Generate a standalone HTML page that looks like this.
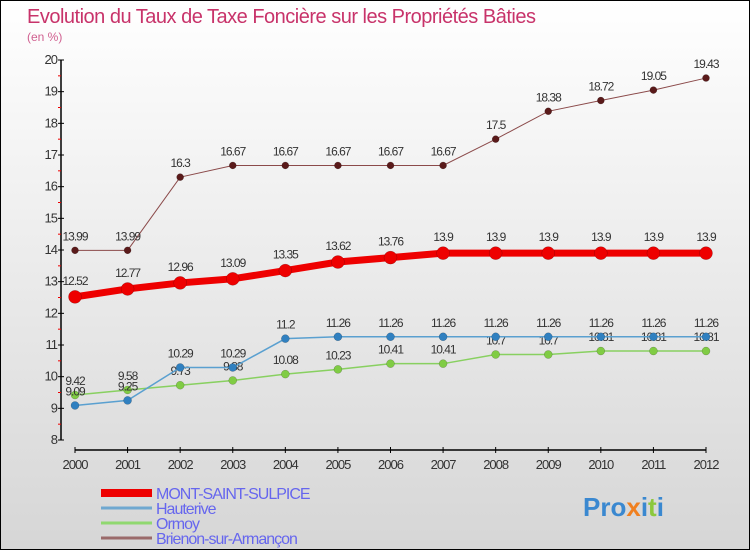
<!DOCTYPE html>
<html><head><meta charset="utf-8"><style>
html,body{margin:0;padding:0}
body{width:750px;height:550px;overflow:hidden;font-family:"Liberation Sans",sans-serif}
#wrap{position:absolute;left:0;top:0;width:748px;height:548px;border:1px solid #000;background:linear-gradient(#ffffff,#d6d6d6)}
</style></head><body>
<div id="wrap">
<svg id="chart" width="748" height="548" style="position:absolute;left:0;top:0"></svg>
</div>
<script>
const years=[2000,2001,2002,2003,2004,2005,2006,2007,2008,2009,2010,2011,2012];
const yTicks=[8,9,10,11,12,13,14,15,16,17,18,19,20];
const mont=[12.52,12.77,12.96,13.09,13.35,13.62,13.76,13.9,13.9,13.9,13.9,13.9,13.9];
const hauterive=[9.09,9.25,10.29,10.29,11.2,11.26,11.26,11.26,11.26,11.26,11.26,11.26,11.26];
const ormoy=[9.42,9.58,9.73,9.88,10.08,10.23,10.41,10.41,10.7,10.7,10.81,10.81,10.81];
const brienon=[13.99,13.99,16.3,16.67,16.67,16.67,16.67,16.67,17.5,18.38,18.72,19.05,19.43];
const seriesNames=["MONT-SAINT-SULPICE","Hauterive","Ormoy","Brienon-sur-Armançon"];

const NS="http://www.w3.org/2000/svg";
const svg=document.getElementById('chart');
function xs(i){return 74+i*(705-74)/(years.length-1);}
function ys(v){return 439-(v-8)*(439-59)/12;}
function mk(t,a,p){const e=document.createElementNS(NS,t);for(const k in a)e.setAttribute(k,a[k]);(p||svg).appendChild(e);return e;}
const F='"Liberation Sans",sans-serif';

let t=mk('text',{x:26,y:22,'font-size':20,fill:'#c8336a','font-family':F,'letter-spacing':'-0.5'});t.textContent='Evolution du Taux de Taxe Foncière sur les Propriétés Bâties';

t=mk('text',{x:26,y:40,'font-size':12,fill:'#d06090','font-family':F});t.textContent='(en %)';


let ax=mk('line',{x1:60,y1:59,x2:60,y2:439,stroke:'#000','stroke-width':1.5});

yTicks.forEach(v=>{
  mk('line',{x1:57,y1:ys(v),x2:63,y2:ys(v),stroke:'#000'});
  if(v<20) mk('line',{x1:57,y1:ys(v+0.5),x2:60,y2:ys(v+0.5),stroke:'#e00'});
  const l=mk('text',{x:56,y:ys(v)+4,'font-size':13,fill:'#333','text-anchor':'end','font-family':F,'letter-spacing':'-1'});l.textContent=v;
  
});
ax=mk('line',{x1:74,y1:449,x2:705,y2:449,stroke:'#000','stroke-width':1.5});

years.forEach((y,i)=>{
  mk('line',{x1:xs(i),y1:446,x2:xs(i),y2:452,stroke:'#000'});
  const l=mk('text',{x:xs(i),y:468,'font-size':13,fill:'#333','text-anchor':'middle','font-family':F,'letter-spacing':'-1'});l.textContent=y;
  
});

function series(vals,color,w,r,dot,name,lblOff){
  const g=mk('g',{});
  
  const pts=vals.map((v,i)=>xs(i)+','+ys(v)).join(' ');
  mk('polyline',{points:pts,fill:'none',stroke:color,'stroke-width':w},g);
  vals.forEach((v,i)=>{
    const c=mk('circle',{cx:xs(i),cy:ys(v),r:r,fill:dot,stroke:'rgba(0,0,0,0.3)','stroke-width':0.5},g);
    
    const l=mk('text',{x:xs(i),y:ys(v)-lblOff,'font-size':12,fill:'#333','text-anchor':'middle','font-family':F,'letter-spacing':'-1'},g);
    l.textContent=v;
    
  });
}
series(brienon,'#8b4a4a',1,3.5,'#5a1a1a','series-brienon',10);
series(ormoy,'#88d060',1.5,4,'#80cc44','series-ormoy',10);
series(hauterive,'#5aa0d0',1.5,4,'#3080c0','series-hauterive',10);
series(mont,'#ee0000',7,6.5,'#ee0000','series-mont-saint-sulpice',12);

const lc=['#ee0000','#6fa8d0','#90d870','#9a6a6a'], lw=[8,3,3,3];
seriesNames.forEach((n,i)=>{
  const y=492+i*15;
  const g=mk('g',{});
  
  mk('line',{x1:100,y1:y,x2:151,y2:y,stroke:lc[i],'stroke-width':lw[i]},g);
  const l=mk('text',{x:155,y:y+6,'font-size':16,fill:'#6666ee','font-family':F,'letter-spacing':'-1'},g);l.textContent=n;
});
const lg=mk('text',{x:582,y:515,'font-size':26,'font-weight':'bold','font-family':F,fill:'#3a88d0'});

[['Pro','#3a88d0'],['x','#f08020'],['i','#3a88d0'],['t','#8cc83c'],['i','#3a88d0']].forEach(p=>{const s=mk('tspan',{fill:p[1]},lg);s.textContent=p[0];});
</script>
</body></html>
